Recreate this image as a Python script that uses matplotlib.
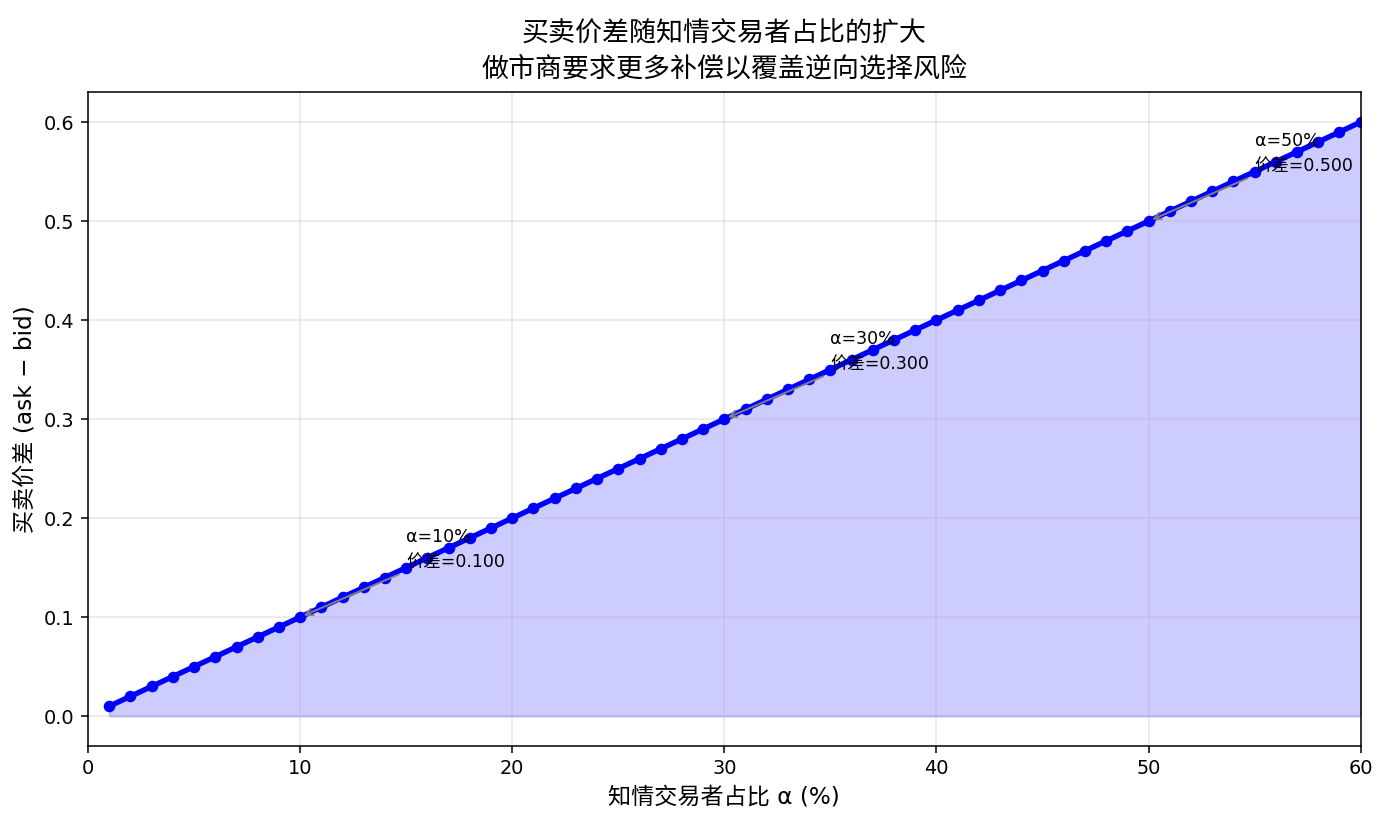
import matplotlib
matplotlib.use("Agg")
import matplotlib.pyplot as plt

plt.rcParams['font.family'] = ['DejaVu Sans', 'Noto Sans CJK SC']
plt.rcParams['axes.unicode_minus'] = False

# 知情交易者占比 (%) 与对应买卖价差
alpha_pct = list(range(1, 61))
spread = [0.01, 0.02, 0.03, 0.04, 0.05, 0.06, 0.07, 0.08, 0.09, 0.10,
          0.11, 0.12, 0.13, 0.14, 0.15, 0.16, 0.17, 0.18, 0.19, 0.20,
          0.21, 0.22, 0.23, 0.24, 0.25, 0.26, 0.27, 0.28, 0.29, 0.30,
          0.31, 0.32, 0.33, 0.34, 0.35, 0.36, 0.37, 0.38, 0.39, 0.40,
          0.41, 0.42, 0.43, 0.44, 0.45, 0.46, 0.47, 0.48, 0.49, 0.50,
          0.51, 0.52, 0.53, 0.54, 0.55, 0.56, 0.57, 0.58, 0.59, 0.60]
marked_alpha = [10, 30, 50]
marked_spread = [0.10, 0.30, 0.50]

dpi = 138.7
fig, ax = plt.subplots(figsize=(1387 / dpi, 825 / dpi), dpi=dpi)
fig.subplots_adjust(left=0.0635, right=0.981, top=0.888, bottom=0.096)

ax.plot(alpha_pct, spread, 'b-', linewidth=2.8, marker='o', markersize=5)
ax.fill_between(alpha_pct, spread, 0, color='blue', alpha=0.2)

for a, s in zip(marked_alpha, marked_spread):
    ax.annotate(f"α={a}%\n价差={s:.3f}", xy=(a, s), xytext=(a + 5, s + 0.05),
                fontsize=9, linespacing=1.55,
                arrowprops=dict(arrowstyle='->', color='gray'))

ax.set_xlim(0, 60)
ax.set_xlabel("知情交易者占比 α (%)", fontsize=12)
ax.set_ylabel("买卖价差 (ask − bid)", fontsize=12)
ax.set_title("买卖价差随知情交易者占比的扩大\n做市商要求更多补偿以覆盖逆向选择风险",
             fontsize=14, linespacing=1.45, pad=8)
ax.grid(True, alpha=0.3)

fig.savefig("out.png", dpi=dpi)
